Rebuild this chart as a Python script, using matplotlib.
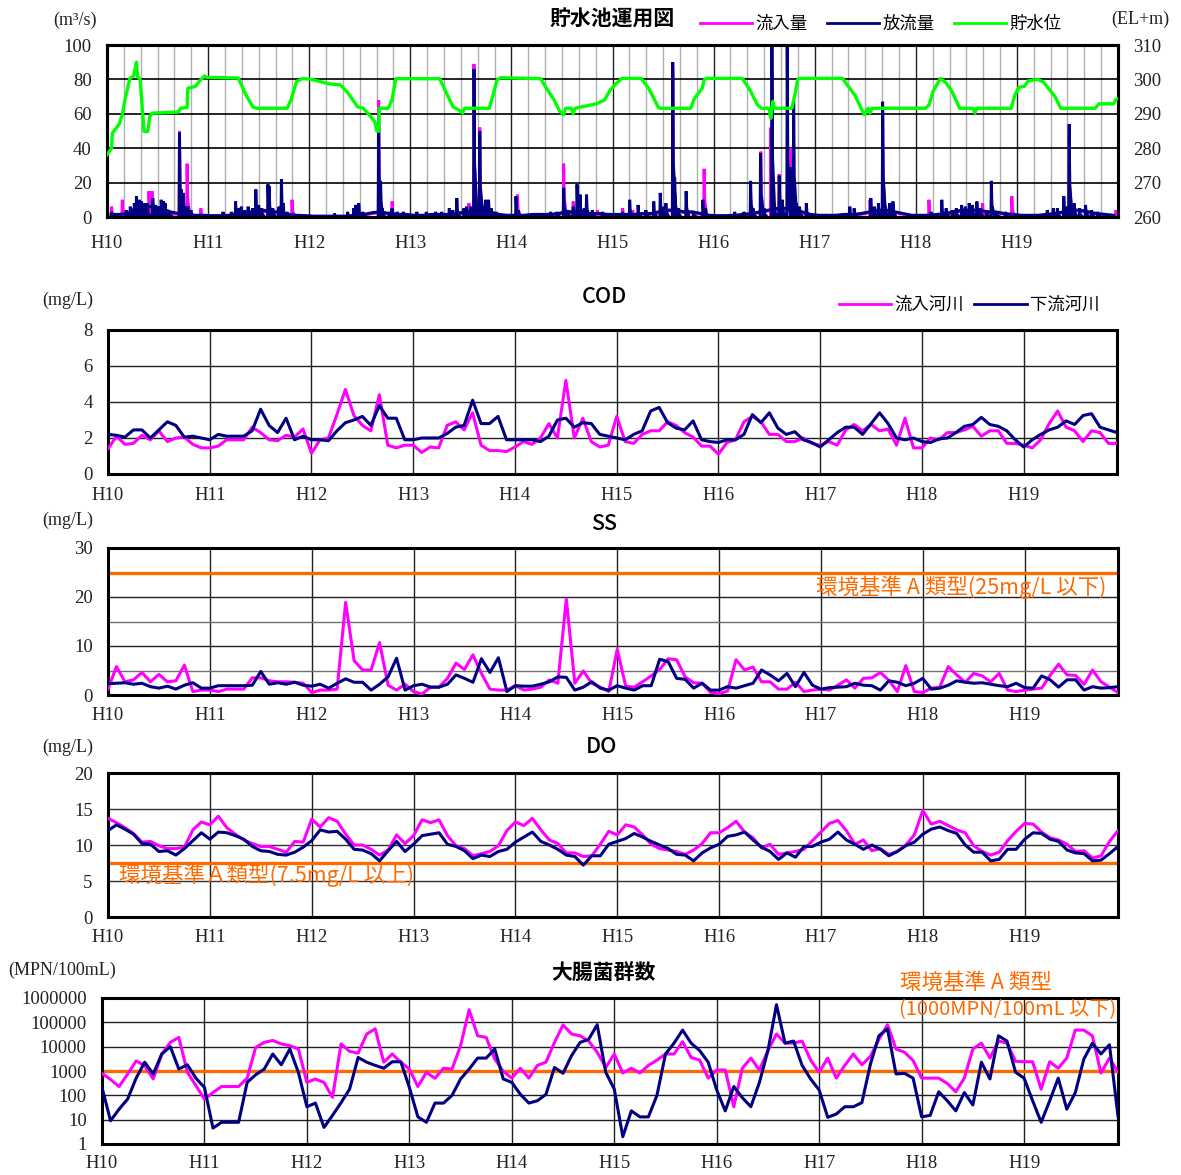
import numpy as np
import matplotlib
matplotlib.use('Agg')
import matplotlib.pyplot as plt
from matplotlib.lines import Line2D

JP = ['Noto Sans CJK JP', 'DejaVu Sans']
SERIF = ['Liberation Serif', 'DejaVu Serif']
plt.rcParams['font.family'] = JP

MAG = '#FF00FF'
NAVY = '#000080'
GREEN = '#00FF00'
ORANGE = '#FF6A00'

years = ['H10', 'H11', 'H12', 'H13', 'H14', 'H15', 'H16', 'H17', 'H18', 'H19']

# ---------------- reservoir operation (top panel) ----------------
# water level (EL+m) at time t (years since start of H10)
level_t = [0.0, 0.045, 0.053, 0.121, 0.151, 0.177, 0.226, 0.264, 0.291, 0.302, 0.328, 0.366, 0.404,
           0.423, 0.449, 0.706, 0.725, 0.792, 0.800, 0.875, 0.913, 0.962, 0.989, 1.298, 1.366, 1.442,
           1.479, 1.781, 1.819, 1.875, 1.932, 2.008, 2.158, 2.196, 2.309, 2.385, 2.479, 2.536, 2.592,
           2.649, 2.668, 2.687, 2.694, 2.781, 2.819, 2.857, 3.291, 3.366, 3.423, 3.479, 3.517, 3.536,
           3.781, 3.819, 3.857, 3.894, 4.291, 4.347, 4.423, 4.479, 4.517, 4.536, 4.592, 4.611, 4.630,
           4.790, 4.850, 4.920, 4.980, 5.040, 5.075, 5.094, 5.283, 5.358, 5.453, 5.472, 5.774, 5.811,
           5.887, 5.906, 5.925, 6.283, 6.358, 6.434, 6.472, 6.547, 6.566, 6.585, 6.604, 6.774, 6.811,
           6.830, 6.849, 7.275, 7.321, 7.396, 7.453, 7.491, 7.528, 7.547, 7.566, 8.094, 8.132, 8.170,
           8.245, 8.302, 8.358, 8.434, 8.566, 8.585, 8.604, 8.943, 8.981, 9.019, 9.075, 9.113, 9.208,
           9.264, 9.377, 9.434, 9.774, 9.811, 9.955, 9.981, 10.0]
level_v = [278.1, 280.0, 284.4, 287.0, 289.7, 294.0, 300.3, 301.0, 305.0, 300.8, 300.0, 284.9, 284.9,
           289.2, 290.2, 290.5, 291.6, 291.8, 297.4, 298.0, 299.4, 301.0, 300.6, 300.4, 296.0, 292.0,
           291.6, 291.6, 294.0, 299.4, 300.2, 300.1, 299.0, 298.7, 298.4, 296.0, 292.0, 291.6, 289.7,
           287.8, 285.1, 284.9, 291.6, 291.6, 294.0, 300.2, 300.2, 295.5, 292.0, 291.1, 290.2, 291.6,
           291.6, 295.5, 299.8, 300.5, 300.2, 297.4, 294.0, 290.7, 289.7, 291.6, 291.6, 290.0, 291.6,
           292.6, 293.0, 294.0, 297.0, 298.9, 299.8, 300.3, 300.3, 297.4, 291.9, 291.6, 291.6, 294.5,
           297.4, 299.8, 300.3, 300.3, 297.0, 292.6, 291.6, 291.6, 288.7, 293.6, 291.6, 291.6, 296.5,
           299.8, 300.3, 300.3, 298.4, 295.5, 292.0, 289.7, 291.6, 290.2, 291.6, 291.6, 292.6, 296.5,
           300.3, 298.9, 296.5, 291.6, 291.6, 290.2, 291.6, 291.6, 295.5, 297.7, 298.0, 299.6, 300.0,
           299.2, 295.0, 291.6, 291.6, 292.9, 292.9, 294.2, 294.4]

# monthly base flows (m3/s)
outflow_base = [1.5, 1.5, 2, 5, 6, 6, 5, 3, 2, 1.5, 1, 1,
                0.8, 0.8, 1, 2, 3, 3, 4, 3, 3, 1.5, 1, 0.8,
                0.5, 0.5, 0.5, 0.5, 0.5, 1, 1.5, 2.5, 3, 2, 1.5, 1.5,
                1, 1, 1.5, 1.5, 1.5, 2, 3, 3, 4, 3, 1.5, 1,
                1, 1, 1.5, 1.5, 1.5, 2, 3, 3, 2, 2, 2, 1.5,
                1.5, 1.5, 1.5, 2, 2, 3, 4, 4, 3, 3, 2, 1,
                0.8, 0.8, 1, 1.5, 2, 3, 4, 5, 5, 5, 3, 1.5,
                1, 1, 1, 1.5, 1.5, 2, 3, 4, 4, 3, 2, 1,
                1, 1, 1.5, 2, 3, 4, 4, 4, 3, 3, 2, 1.5,
                1, 1, 1, 1.5, 2, 3, 4, 4, 3, 2, 1.5, 1]
inflow_base = [1, 1.5, 2, 4, 5, 5, 4, 2, 1.5, 1, 0.5, 0.5,
               0.3, 0.5, 1, 2, 2.5, 2.5, 3, 2.5, 2, 1, 0.5, 0.3,
               0.3, 0.3, 0.3, 0.3, 0.3, 0.8, 1, 2, 2.5, 1.5, 1, 1,
               0.5, 0.5, 1, 1, 1, 1.5, 2.5, 2.5, 3.5, 2.5, 1, 0.5,
               0.5, 0.5, 1, 1, 1, 1.5, 2.5, 2.5, 1.5, 1.5, 1.5, 1,
               1, 1, 1, 1.5, 1.5, 2.5, 3.5, 3.5, 2.5, 2.5, 1.5, 0.5,
               0.3, 0.3, 0.3, 1, 1.5, 2.5, 3.5, 4, 4, 4, 2, 1,
               0.5, 0.5, 0.5, 1, 1, 1.5, 2.5, 3.5, 3.5, 2.5, 1.5, 0.5,
               0.5, 0.5, 1, 1.5, 2.5, 3.5, 3.5, 3.5, 2.5, 2.5, 1.5, 1,
               0.5, 0.5, 0.5, 1, 1.5, 2.5, 3.5, 3.5, 2.5, 1.5, 1, 0.8]

# flood peaks (time in years, m3/s)
outflow_pk_t = [0.045, 0.19, 0.23, 0.27, 0.291, 0.317, 0.34, 0.37, 0.40, 0.453, 0.48, 0.51, 0.536,
                0.56, 0.574, 0.62, 0.717, 0.735, 0.755, 0.78, 0.80, 0.83,
                1.147, 1.23, 1.272, 1.30, 1.328, 1.36, 1.396, 1.44, 1.472, 1.50, 1.53, 1.592, 1.604,
                1.64, 1.70, 1.725, 1.743, 1.78,
                2.25, 2.38, 2.44, 2.46, 2.49, 2.53, 2.687, 2.706, 2.72, 2.79, 2.819, 2.87, 2.93,
                3.064, 3.158, 3.25, 3.31, 3.385, 3.42, 3.46, 3.53, 3.555, 3.60, 3.63, 3.66, 3.687,
                3.72, 3.743, 3.774, 3.80, 3.85,
                4.045, 4.07, 4.20, 4.385, 4.45, 4.517, 4.56, 4.611, 4.649, 4.679, 4.72, 4.743, 4.80, 4.90,
                5.10, 5.17, 5.253, 5.33, 5.408, 5.472, 5.51, 5.528, 5.596, 5.615, 5.65, 5.728, 5.80,
                5.894, 5.92,
                6.208, 6.30, 6.366, 6.39, 6.464, 6.50, 6.577, 6.60, 6.649, 6.68, 6.728, 6.766, 6.792,
                6.82, 6.85, 6.917,
                7.347, 7.39, 7.555, 7.59, 7.63, 7.672, 7.70, 7.74, 7.774,
                8.15, 8.257, 8.30, 8.36, 8.40, 8.453, 8.49, 8.528, 8.56, 8.604, 8.64, 8.70, 8.747,
                8.80, 8.887,
                9.30, 9.36, 9.40, 9.464, 9.49, 9.517, 9.54, 9.566, 9.62, 9.679, 9.736, 9.80]
outflow_pk_q = [3, 4, 6, 8, 12, 10, 9, 8, 8, 11, 7, 6, 10,
                9, 8, 3, 49, 16, 14, 6, 6, 4,
                3, 3, 9, 5, 6, 4, 6, 5, 16, 7, 5, 19, 18,
                5, 6, 22, 8, 3,
                2, 3, 5, 7, 8, 3, 55, 21, 5, 3, 5, 3, 3,
                3, 3, 3, 3, 5, 4, 11, 5, 6, 6, 86, 8, 50,
                6, 10, 10, 5, 3,
                12, 4, 2, 3, 3, 17, 4, 6, 19, 13, 5, 13, 4, 3,
                3, 10, 7, 4, 9, 14, 6, 8, 90, 23, 5, 15, 3,
                10, 5,
                3, 3, 21, 5, 37, 5, 100, 8, 24, 10, 100, 29, 68,
                8, 6, 8,
                6, 5, 11, 6, 8, 67, 6, 8, 9,
                3, 10, 5, 4, 5, 7, 6, 8, 7, 9, 5, 4, 21,
                3, 3,
                4, 5, 5, 12, 6, 54, 8, 8, 5, 7, 4, 3]
inflow_pk_t = [0.045, 0.151, 0.24, 0.415, 0.445, 0.717, 0.792, 0.928, 1.83, 2.45, 2.687, 2.82,
               3.58, 3.63, 3.687, 4.06, 4.517, 4.611, 4.85, 5.10, 5.20, 5.596, 5.906, 6.367, 6.467,
               6.566, 6.649, 6.766, 7.547, 7.672, 8.13, 8.66, 8.95, 9.517, 9.98]
inflow_pk_q = [6, 10, 5, 15, 15, 50, 31, 5, 10, 4, 68, 9,
               8, 89, 52, 13, 31, 9, 4, 5, 4, 85, 28, 10, 38,
               52, 25, 40, 10, 60, 10, 8, 12, 48, 4]

# ---------------- monthly water quality (Jan H10 ... Dec H19) ----------------
cod_in = [1.4, 2.1, 1.65, 1.7, 2.15, 1.9, 2.4, 1.8, 2.0, 2.05,
          1.65, 1.45, 1.45, 1.55, 1.9, 1.9, 1.9, 2.6, 2.3, 1.9,
          1.85, 2.15, 2.05, 2.5, 1.15, 1.9, 2.0, 3.3, 4.7, 3.25,
          2.7, 2.4, 4.4, 1.6, 1.45, 1.6, 1.6, 1.2, 1.5, 1.45,
          2.7, 2.9, 2.45, 3.4, 1.6, 1.3, 1.3, 1.25, 1.5, 1.8,
          1.65, 2.0, 2.8, 2.0, 5.2, 2.0, 3.1, 1.8, 1.5, 1.6,
          3.2, 1.8, 1.7, 2.2, 2.4, 2.4, 2.9, 2.7, 2.3, 2.05,
          1.55, 1.55, 1.1, 1.75, 1.9, 2.9, 3.2, 2.9, 2.2, 2.2,
          1.8, 1.8, 2.0, 1.7, 1.6, 1.8, 1.6, 2.45, 2.75, 2.4,
          2.75, 2.4, 2.5, 1.6, 3.1, 1.45, 1.45, 2.0, 1.9, 2.3,
          2.3, 2.45, 2.65, 2.1, 2.4, 2.4, 1.7, 1.7, 1.6, 1.45,
          1.9, 2.8, 3.5, 2.6, 2.4, 1.8, 2.4, 2.3, 1.7, 1.7]
cod_out = [2.2, 2.15, 2.05, 2.45, 2.45, 2.0, 2.45, 2.9, 2.7, 2.05,
           2.1, 2.0, 1.9, 2.2, 2.1, 2.1, 2.1, 2.4, 3.6, 2.7,
           2.3, 3.1, 1.9, 2.1, 1.9, 1.9, 1.85, 2.4, 2.85, 3.0,
           3.2, 2.7, 3.8, 3.1, 3.1, 1.9, 1.9, 2.0, 2.0, 2.0,
           2.25, 2.6, 2.7, 4.1, 2.8, 2.8, 3.2, 1.9, 1.9, 1.9,
           1.9, 1.8, 2.1, 3.0, 3.1, 2.6, 2.85, 2.8, 2.2, 2.1,
           2.0, 1.9, 2.2, 2.4, 3.5, 3.7, 2.85, 2.55, 2.45, 2.95,
           1.9, 1.8, 1.75, 1.9, 1.9, 2.2, 3.3, 2.85, 3.4, 2.55,
           2.2, 2.35, 1.9, 1.75, 1.5, 1.9, 2.3, 2.6, 2.6, 2.2,
           2.8, 3.4, 2.8, 2.0, 1.9, 2.0, 1.8, 1.75, 1.95, 2.0,
           2.3, 2.65, 2.75, 3.15, 2.75, 2.65, 2.4, 1.9, 1.5, 1.9,
           2.2, 2.45, 2.6, 2.95, 2.75, 3.25, 3.35, 2.6, 2.45, 2.3]
ss_in = [1.2, 5.8, 2.7, 3.1, 4.6, 2.7, 4.2, 2.7, 2.9, 6.1,
         0.7, 1.0, 1.0, 0.7, 1.2, 1.2, 1.2, 3.5, 3.5, 2.9,
         2.7, 2.7, 2.6, 2.4, 0.5, 1.0, 1.0, 1.2, 18.9, 7.0,
         5.1, 5.1, 10.7, 2.0, 1.0, 2.2, 0.7, 0.2, 1.6, 1.6,
         3.4, 6.5, 5.2, 8.2, 4.4, 1.2, 1.0, 1.0, 1.9, 1.0,
         1.2, 1.6, 3.1, 2.4, 19.6, 2.4, 4.9, 2.4, 1.6, 0.7,
         9.3, 1.8, 1.6, 2.7, 3.9, 5.2, 7.4, 7.2, 3.7, 2.5,
         2.4, 0.5, 0.3, 0.8, 7.2, 5.1, 5.7, 2.7, 2.7, 1.2,
         1.2, 2.6, 0.7, 1.0, 1.2, 1.0, 2.0, 3.1, 1.4, 3.4,
         3.5, 4.6, 3.0, 0.7, 6.0, 0.7, 0.5, 1.4, 1.6, 5.8,
         4.1, 2.6, 4.4, 3.9, 2.7, 4.4, 1.0, 0.7, 1.0, 1.2,
         1.4, 4.0, 6.3, 4.1, 4.0, 2.2, 5.1, 2.7, 1.6, 0.5]
ss_out = [2.3, 2.4, 2.5, 2.2, 2.4, 1.7, 1.4, 1.8, 1.2, 2.0,
          2.5, 1.4, 1.4, 1.9, 1.9, 1.9, 1.9, 2.0, 4.8, 2.2,
          2.5, 2.2, 2.6, 2.0, 1.8, 2.2, 1.4, 2.4, 3.3, 2.6,
          2.6, 1.0, 2.2, 3.7, 7.5, 1.0, 1.9, 2.2, 1.6, 1.6,
          2.2, 4.1, 3.4, 2.6, 7.4, 4.6, 7.6, 0.7, 1.9, 1.8,
          1.8, 2.2, 2.7, 3.7, 3.6, 1.0, 1.6, 2.7, 1.4, 1.0,
          1.9, 1.4, 1.0, 1.9, 1.9, 7.3, 6.8, 3.4, 3.2, 1.4,
          2.4, 1.0, 1.0, 1.7, 1.4, 1.9, 2.4, 5.1, 4.1, 2.9,
          4.4, 1.7, 4.6, 2.0, 1.2, 1.5, 1.6, 1.7, 2.4, 2.0,
          1.9, 1.0, 2.9, 2.6, 1.9, 2.4, 3.4, 1.2, 1.4, 2.0,
          2.9, 2.6, 2.4, 2.5, 2.2, 1.9, 1.7, 2.4, 1.5, 1.4,
          3.9, 3.1, 1.6, 3.1, 3.1, 1.0, 1.7, 1.4, 1.5, 1.7]
do_in = [13.7, 13.1, 12.4, 11.6, 10.4, 10.5, 9.9, 9.5, 9.5, 9.7,
         12.1, 13.2, 12.8, 14.0, 12.4, 11.5, 10.7, 10.2, 9.8, 9.8,
         9.4, 9.0, 10.5, 10.4, 13.6, 12.5, 13.8, 13.3, 11.5, 10.0,
         10.0, 9.4, 8.6, 9.3, 11.4, 10.2, 11.3, 13.5, 13.1, 13.5,
         11.3, 9.9, 9.5, 8.5, 8.8, 9.1, 9.9, 12.0, 13.2, 12.7,
         13.7, 12.1, 10.7, 10.2, 8.9, 8.9, 8.4, 8.5, 10.1, 11.9,
         11.4, 12.8, 12.5, 11.4, 10.1, 9.5, 9.3, 9.1, 8.7, 9.3,
         10.2, 11.7, 11.7, 12.4, 13.3, 11.8, 11.0, 9.6, 10.1, 8.7,
         8.9, 9.1, 9.4, 10.6, 11.8, 13.0, 13.4, 12.0, 10.1, 10.7,
         9.2, 9.5, 8.7, 9.1, 10.0, 11.4, 14.8, 12.9, 13.3, 12.7,
         12.1, 11.7, 9.9, 9.1, 8.6, 9.0, 10.6, 11.9, 13.0, 12.9,
         11.8, 11.0, 10.7, 10.1, 9.1, 9.2, 8.2, 8.5, 10.5, 12.0]
do_out = [12.0, 12.8, 12.2, 11.5, 10.2, 10.1, 9.1, 9.2, 8.6, 9.5,
          10.6, 11.7, 10.8, 11.8, 11.7, 11.3, 10.8, 9.8, 9.2, 9.1,
          8.7, 8.6, 9.0, 9.7, 10.6, 12.1, 11.8, 11.9, 10.8, 9.4,
          9.3, 8.8, 7.8, 9.2, 10.5, 9.1, 10.1, 11.3, 11.5, 11.7,
          10.1, 9.8, 9.2, 8.1, 8.6, 8.4, 9.1, 9.4, 10.4, 11.1,
          11.8, 10.5, 10.0, 9.4, 8.6, 8.4, 7.2, 8.5, 8.5, 10.1,
          10.5, 10.9, 11.6, 11.1, 10.5, 10.0, 9.5, 8.7, 8.6, 7.8,
          8.9, 9.6, 10.1, 11.2, 11.4, 11.8, 10.7, 9.7, 9.1, 8.0,
          8.9, 8.3, 9.8, 9.8, 10.4, 10.8, 11.8, 10.7, 10.1, 9.4,
          10.0, 9.4, 8.5, 9.1, 9.9, 10.4, 11.5, 12.2, 12.5, 12.0,
          11.6, 10.0, 9.0, 9.0, 7.8, 8.0, 9.4, 9.4, 10.8, 11.7,
          11.6, 10.8, 10.5, 9.3, 8.9, 8.8, 7.8, 7.9, 8.8, 9.8]
ecoli_in = [800, 450, 230, 750, 2600, 1660, 470, 5000, 15000, 24000,
            890, 250, 70, 130, 230, 230, 230, 510, 9300, 15000,
            18000, 13000, 11000, 8000, 340, 470, 340, 83, 13000, 6400,
            5400, 33000, 54000, 2300, 5000, 2300, 1200, 230, 880, 500,
            1300, 1200, 11000, 330000, 28000, 24000, 3100, 970, 510, 1300,
            510, 1700, 2300, 15000, 78000, 33000, 28000, 17000, 5900, 1400,
            5000, 830, 1300, 830, 1700, 2800, 5000, 5000, 16000, 3600,
            2800, 510, 1100, 1100, 34, 1300, 3400, 1100, 6900, 33000,
            14000, 14000, 17000, 2800, 890, 3400, 510, 1700, 5000, 1800,
            4000, 20000, 80000, 8000, 5900, 2700, 510, 510, 510, 310,
            140, 510, 8000, 14000, 3400, 17000, 14000, 2500, 2400, 2400,
            180, 2400, 1300, 3400, 48000, 48000, 28000, 830, 3400, 900]
ecoli_out = [210, 9, 27, 70, 510, 2300, 750, 5000, 10000, 1200,
             1800, 510, 210, 4.5, 7.8, 7.8, 7.8, 340, 700, 1200,
             5000, 1800, 8000, 880, 34, 48, 4.8, 15, 50, 180,
             3600, 2300, 1700, 1300, 2400, 2400, 210, 13, 7.8, 48,
             48, 100, 470, 1200, 3400, 3400, 8000, 470, 340, 110,
             48, 60, 110, 1400, 800, 4300, 15000, 20000, 80000, 890,
             180, 2, 23, 13, 13, 100, 5000, 14000, 48000, 14000,
             6900, 2300, 165, 23, 230, 80, 34, 340, 6900, 530000,
             14000, 17000, 1700, 470, 165, 12.5, 17, 34, 34, 50,
             1900, 28000, 54000, 760, 800, 510, 13, 15, 140, 60,
             23, 130, 40, 2300, 470, 28000, 17000, 890, 510, 60,
             7.8, 60, 510, 27, 130, 3100, 14000, 5000, 12000, 14]

SS_STD = 25
DO_STD = 7.5
ECOLI_STD = 1000

# ---------------- figure ----------------
W, H = 1181, 1175
fig = plt.figure(figsize=(W / 100, H / 100), dpi=100)


def box(x0, y0, x1, y1):
    return fig.add_axes([x0 / W, 1 - y1 / H, (x1 - x0) / W, (y1 - y0) / H])


def ftext(x, y, s, **kw):
    fig.text(x / W, 1 - y / H, s, **kw)


def serif_ticks(ax, axis='both'):
    labs = []
    if axis in ('both', 'x'):
        labs += ax.get_xticklabels()
    if axis in ('both', 'y'):
        labs += ax.get_yticklabels()
    for lab in labs:
        lab.set_fontfamily(SERIF)


def frame(ax, xmax, xpad):
    ax.set_xlim(0, xmax)
    for s in ax.spines.values():
        s.set_linewidth(2.2)
        s.set_color('black')
    ax.set_xticks(range(10))
    ax.set_xticklabels(years)
    ax.tick_params(axis='x', length=0, labelsize=13.5, pad=xpad, colors='#222222')
    ax.tick_params(axis='y', length=0, labelsize=13.5, pad=11, colors='#222222')
    for yr in range(1, 10):
        ax.axvline(yr, color='#202020', lw=1.0, zorder=1)


def spikes(ax, tk, qk, color, z):
    # each flood peak drawn as a sharp rise and a quick recession
    xs, ys = [], []
    for t, q in zip(tk, qk):
        xs += [t - 0.004, t, t + 0.006, t + 0.03, np.nan]
        ys += [0, q, q * 0.35, 0, np.nan]
    ax.plot(xs, ys, color=color, lw=2.1, zorder=z, solid_joinstyle='miter')


months = np.arange(120) / 12.0
qmax = 119 / 12.0

# ---- top panel ----
ax0 = box(107, 45, 1118, 217)
ax0.set_ylim(0, 100)
ax0.set_yticks(range(0, 101, 20))
frame(ax0, 10, 13)
for m in range(60):
    if m % 6:
        ax0.axvline(m / 6.0, color='#B0B0B0', lw=1.0, zorder=1)
for yv in (20, 40, 60, 80):
    ax0.axhline(yv, color='black', lw=1.2, zorder=1)
base_t = (np.arange(120) + 0.5) / 12.0
ax0.plot(base_t, inflow_base, color=MAG, lw=2.0, zorder=3)
spikes(ax0, inflow_pk_t, inflow_pk_q, MAG, 3)
ax0.plot(base_t, outflow_base, color=NAVY, lw=2.2, zorder=4)
spikes(ax0, outflow_pk_t, outflow_pk_q, NAVY, 4)
ax0r = ax0.twinx()
ax0r.set_ylim(260, 310)
ax0r.set_yticks(range(260, 311, 10))
ax0r.tick_params(axis='y', length=0, labelsize=13.5, pad=11, colors='#222222')
for s in ax0r.spines.values():
    s.set_linewidth(2.2)
ax0r.plot(level_t, level_v, color=GREEN, lw=2.4, zorder=5)
serif_ticks(ax0)
serif_ticks(ax0r, 'y')

ftext(612, 19, '貯水池運用図', ha='center', va='center', fontsize=15, fontweight='bold')
ftext(75, 20, '(m³/s)', ha='center', va='center', fontsize=13, family=SERIF, color='#222222')
ftext(1140, 19, '(EL+m)', ha='center', va='center', fontsize=13, family=SERIF, color='#222222')
h_top = [Line2D([], [], color=MAG, lw=2), Line2D([], [], color=NAVY, lw=2),
         Line2D([], [], color=GREEN, lw=2)]
fig.legend(h_top, ['流入量', '放流量', '貯水位'], loc='center left',
           bbox_to_anchor=(693 / W, 1 - 24 / H), ncol=3, frameon=False, fontsize=12.5,
           handlelength=3.0, handletextpad=0.2, columnspacing=1.1, borderaxespad=0)

# ---- COD ----
ax1 = box(108, 330, 1117, 474)
ax1.set_ylim(0, 8)
ax1.set_yticks(range(0, 9, 2))
frame(ax1, qmax, 9)
for yv in (2, 4, 6):
    ax1.axhline(yv, color='#202020', lw=1.0, zorder=1)
ax1.plot(months, cod_in, color=MAG, lw=2.2, zorder=3)
ax1.plot(months, cod_out, color=NAVY, lw=2.2, zorder=4)
serif_ticks(ax1)
ftext(604, 297, 'COD', ha='center', va='center', fontsize=15.5, fontweight='medium')
ftext(68, 300, '(mg/L)', ha='center', va='center', fontsize=13, family=SERIF, color='#222222')
h_cod = [Line2D([], [], color=MAG, lw=2), Line2D([], [], color=NAVY, lw=2)]
fig.legend(h_cod, ['流入河川', '下流河川'], loc='center left',
           bbox_to_anchor=(832 / W, 1 - 305 / H), ncol=2, frameon=False, fontsize=12.5,
           handlelength=3.0, handletextpad=0.2, columnspacing=0.6, borderaxespad=0)

# ---- SS ----
ax2 = box(108, 548, 1118, 695)
ax2.set_ylim(0, 30)
ax2.set_yticks(range(0, 31, 10))
frame(ax2, qmax, 9)
for yv in (10, 20):
    ax2.axhline(yv, color='#202020', lw=1.0, zorder=1)
for yv in (5, 15):
    ax2.axhline(yv, color='#707070', lw=1.0, zorder=1)
ax2.axhline(SS_STD, color=ORANGE, lw=2.4, zorder=2)
ax2.plot(months, ss_in, color=MAG, lw=2.2, zorder=3)
ax2.plot(months, ss_out, color=NAVY, lw=2.2, zorder=4)
serif_ticks(ax2)
ftext(604, 524, 'SS', ha='center', va='center', fontsize=15.5, fontweight='medium')
ftext(68, 520, '(mg/L)', ha='center', va='center', fontsize=13, family=SERIF, color='#222222')
ftext(1106, 587, '環境基準 A 類型(25mg/L 以下)', ha='right', va='center', fontsize=15.5,
      color=ORANGE)

# ---- DO ----
ax3 = box(108, 773, 1118, 917)
ax3.set_ylim(0, 20)
ax3.set_yticks(range(0, 21, 5))
frame(ax3, qmax, 9)
for yv in (5, 10, 15):
    ax3.axhline(yv, color='#303030', lw=1.0, zorder=1)
ax3.axhline(DO_STD, color=ORANGE, lw=2.4, zorder=2)
ax3.plot(months, do_in, color=MAG, lw=2.2, zorder=3)
ax3.plot(months, do_out, color=NAVY, lw=2.2, zorder=4)
serif_ticks(ax3)
ftext(602, 747, 'DO', ha='center', va='center', fontsize=15.5, fontweight='medium')
ftext(68, 747, '(mg/L)', ha='center', va='center', fontsize=13, family=SERIF, color='#222222')
ftext(119, 875, '環境基準Ａ類型(7.5mg/L 以上)', ha='left', va='center', fontsize=15.5,
      color=ORANGE)

# ---- E. coli ----
ax4 = box(102, 998, 1118, 1144)
ax4.set_yscale('log')
ax4.set_ylim(1, 1e6)
ax4.set_yticks([1, 10, 100, 1000, 10000, 100000, 1000000])
ax4.set_yticklabels(['1', '10', '100', '1000', '10000', '100000', '1000000'])
ax4.minorticks_off()
frame(ax4, qmax, 8)
ax4.tick_params(axis='y', which='minor', length=0)
for yv in (10, 100, 1000, 10000, 100000):
    ax4.axhline(yv, color='#202020', lw=1.0, zorder=1)
ax4.axhline(ECOLI_STD, color=ORANGE, lw=2.4, zorder=2)
ax4.plot(months, ecoli_in, color=MAG, lw=2.2, zorder=3)
ax4.plot(months, ecoli_out, color=NAVY, lw=2.2, zorder=4)
serif_ticks(ax4)
ftext(603, 972, '大腸菌群数', ha='center', va='center', fontsize=15, fontweight='bold')
ftext(62, 970, '(MPN/100mL)', ha='center', va='center', fontsize=13, family=SERIF, color='#222222')
ftext(976, 983, '環境基準 A 類型', ha='center', va='center', fontsize=15.5, color=ORANGE)
ftext(1008, 1010, '(1000MPN/100mL 以下)', ha='center', va='center', fontsize=14.5, color=ORANGE)

fig.savefig('out.png', dpi=100)
